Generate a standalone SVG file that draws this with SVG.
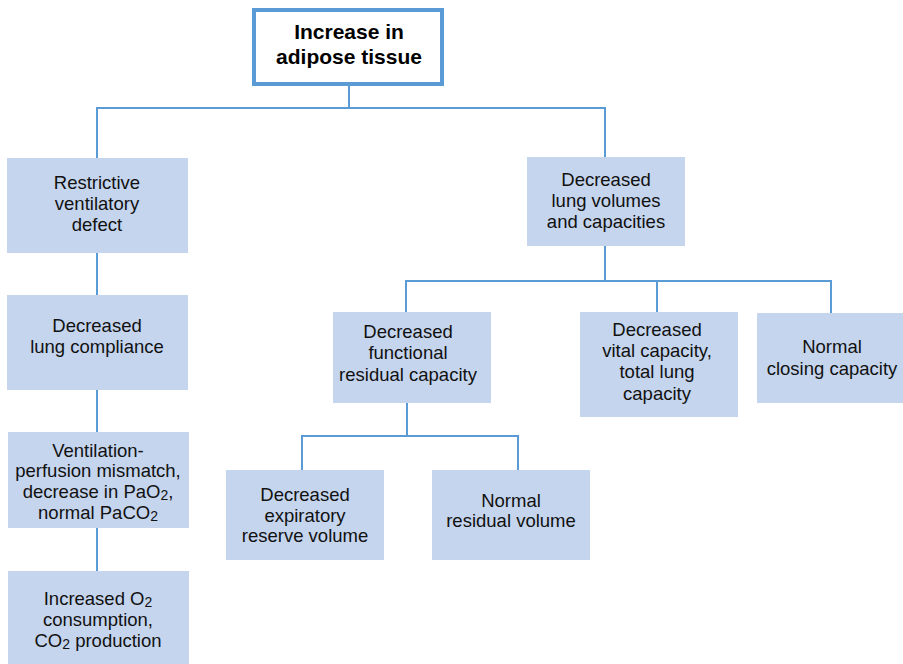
<svg xmlns="http://www.w3.org/2000/svg" width="903" height="664" viewBox="0 0 903 664">
<style>
.box{fill:#c5d5ee;stroke:none}
.top{fill:#ffffff;stroke:#5b9bd5;stroke-width:4}
.ln{fill:none;stroke:#5b9bd5;stroke-width:2}
text{font-family:"Liberation Sans",Arial,Helvetica,sans-serif;font-size:18.5px;fill:#111111;text-anchor:middle}
.b{font-weight:bold;font-size:21px;fill:#000}
.s{font-size:14px}
</style>
<rect width="903" height="664" fill="#ffffff"/>
<g id="connectors">
<path class="ln" d="M349 86V108M97 158V108H605V157"/>
<path class="ln" d="M97 253V295M97 390V432M97 528V571"/>
<path class="ln" d="M605 246V281M406 312V281H831V313M657 281V312"/>
<path class="ln" d="M407 403V436M302 470V436H518V470"/>
</g>
<g id="n-top"><rect class="top" x="254" y="10" width="188" height="74"/>
<text class="b" x="349" y="39">Increase in</text><text class="b" x="349" y="64">adipose tissue</text></g>
<g id="n-restrictive"><rect class="box" x="7" y="158" width="181" height="95"/>
<text x="97" y="189">Restrictive</text><text x="97" y="210">ventilatory</text><text x="97" y="231">defect</text></g>
<g id="n-compliance"><rect class="box" x="7" y="295" width="181" height="95"/>
<text x="97" y="332">Decreased</text><text x="97" y="353">lung compliance</text></g>
<g id="n-vq"><rect class="box" x="8" y="432" width="181" height="96"/>
<text x="98" y="457">Ventilation-</text><text x="98" y="477">perfusion mismatch,</text>
<text x="98" y="498">decrease in PaO<tspan class="s" dy="2">2</tspan><tspan dy="-2">,</tspan></text>
<text x="98" y="519">normal PaCO<tspan class="s" dy="2">2</tspan></text></g>
<g id="n-o2"><rect class="box" x="8" y="571" width="181" height="93"/>
<text x="98" y="605">Increased O<tspan class="s" dy="2">2</tspan></text>
<text x="98" y="626">consumption,</text>
<text x="98" y="647">CO<tspan class="s" dy="2">2</tspan><tspan dy="-2"> production</tspan></text></g>
<g id="n-volumes"><rect class="box" x="527" y="157" width="158" height="89"/>
<text x="606" y="186">Decreased</text><text x="606" y="207">lung volumes</text><text x="606" y="228">and capacities</text></g>
<g id="n-frc"><rect class="box" x="333" y="312" width="158" height="91"/>
<text x="408" y="338">Decreased</text><text x="408" y="359">functional</text><text x="408" y="381">residual capacity</text></g>
<g id="n-vc"><rect class="box" x="580" y="312" width="158" height="105"/>
<text x="657" y="336">Decreased</text><text x="657" y="357">vital capacity,</text><text x="657" y="378">total lung</text><text x="657" y="400">capacity</text></g>
<g id="n-closing"><rect class="box" x="757" y="313" width="146" height="90"/>
<text x="832" y="353">Normal</text><text x="832" y="375">closing capacity</text></g>
<g id="n-erv"><rect class="box" x="226" y="470" width="158" height="90"/>
<text x="305" y="501">Decreased</text><text x="305" y="522">expiratory</text><text x="305" y="542">reserve volume</text></g>
<g id="n-rv"><rect class="box" x="432" y="470" width="158" height="90"/>
<text x="511" y="507">Normal</text><text x="511" y="527">residual volume</text></g>
</svg>
